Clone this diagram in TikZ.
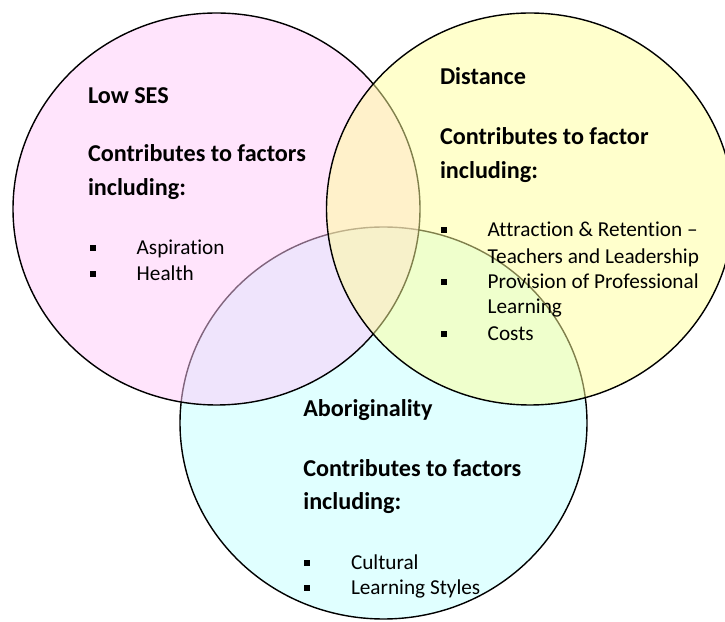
\documentclass[tikz,border=0pt]{standalone}
\usepackage{fontspec}
\setmainfont{Carlito}[Ligatures={TeX,NoCommon}]
\usetikzlibrary{positioning}

\begin{document}
\begin{tikzpicture}[x=0.025cm,y=-0.025cm]

		\definecolor{sesPink}{RGB}{255,201,249}
		\definecolor{distYellow}{RGB}{255,255,153}
		\definecolor{abCyan}{RGB}{193,255,255}

		\pgfmathsetmacro{\setRx}{203.5}
		\pgfmathsetmacro{\setRy}{196}
		\pgfmathsetmacro{\bulletOff}{43.7}

		\tikzset{
			vennSet/.style={
				draw=black,
				line width=1pt,
				fill opacity=0.5,
			},
			setTitle/.style={
				anchor=base west,
				inner sep=0pt,
				outer sep=0pt,
				font=\bfseries\fontsize{17.2}{20}\selectfont,
			},
			setItem/.style={
				anchor=base west,
				inner sep=0pt,
				outer sep=0pt,
				font=\fontsize{15.1}{18}\selectfont,
			},
		}

		\useasboundingbox (0,0) rectangle (725,622);

		% Sets (Aboriginality at the bottom)
		\draw[vennSet,fill=abCyan] (383.5,423) ellipse ({\setRx} and {\setRy});
		\draw[vennSet,fill=sesPink] (216.5,209) ellipse ({\setRx} and {\setRy});
		\draw[vennSet,fill=distYellow] (530,209) ellipse ({\setRx} and {\setRy});

		% Low SES
		\node[setTitle] (sesTitle) at (88,103.3) {Low SES};
		\node[setTitle] (sesContrib) at (88,161.7) {Contributes to factors};
		\node[setTitle] (sesIncl) at (88,196) {including:};
		\foreach \txt/\yy [count=\i] in {Aspiration/255,Health/280.7} {
			\node[setItem] (sesItem\i) at (136.7,\yy) {\txt};
			\fill (sesItem\i.base west) ++(-\bulletOff,-6.5) +(-3,-3) rectangle +(3,3);
		}

		% Distance
		\node[setTitle] (distTitle) at (440,85) {Distance};
		\node[setTitle] (distContrib) at (440,145) {Contributes to factor};
		\node[setTitle] (distIncl) at (440,178.3) {including:};
		\foreach \txt/\yy/\b [count=\i] in {Attraction \& Retention --/236.7/1,Teachers and Leadership/263.3/0,Provision of Professional/288.3/1,Learning/313.3/0,Costs/341/1} {
			\node[setItem] (distItem\i) at (487.7,\yy) {\txt};
			\ifnum\b=1
				\fill (distItem\i.base west) ++(-\bulletOff,-6.5) +(-3,-3) rectangle +(3,3);
			\fi
		}

		% Aboriginality
		\node[setTitle] (abTitle) at (303.3,416.7) {Aboriginality};
		\node[setTitle] (abContrib) at (303.3,476.7) {Contributes to factors};
		\node[setTitle] (abIncl) at (303.3,510) {including:};
		\foreach \txt/\yy [count=\i] in {Cultural/569.3,Learning Styles/595} {
			\node[setItem] (abItem\i) at (351,\yy) {\txt};
			\fill (abItem\i.base west) ++(-\bulletOff,-6.5) +(-3,-3) rectangle +(3,3);
		}

	\end{tikzpicture}
\end{document}
